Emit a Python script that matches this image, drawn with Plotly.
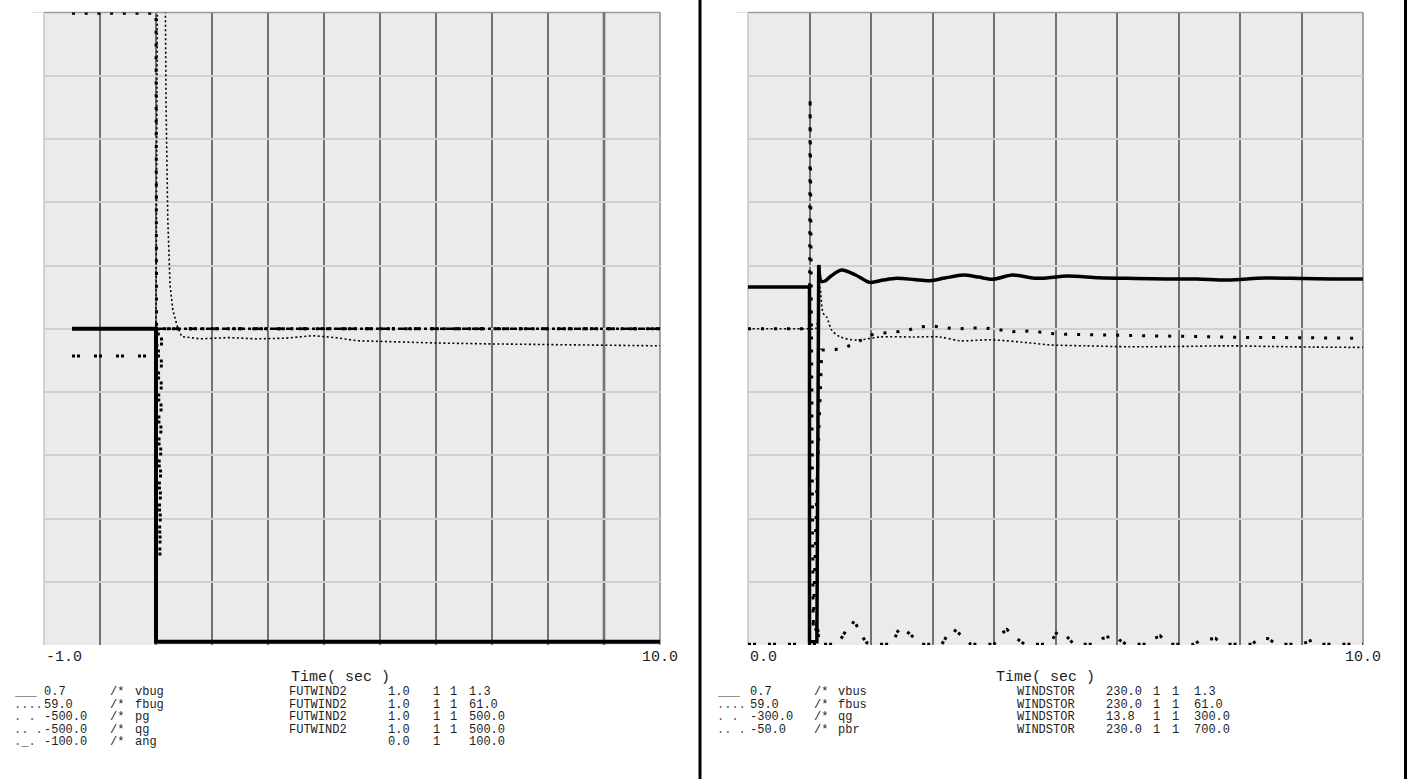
import plotly.graph_objects as go

W, H = 1408, 779

# ---------------- left panel data (FUTWIND2) ----------------
t_vbug = [-0.5, 1.0, 1.0, 10.0]
vbug = [1.0, 1.0, 0.703, 0.703]

t_fbug = [-0.5, 1.0, 1.03, 1.16, 1.18, 1.21, 1.25, 1.30, 1.375, 1.46, 1.8, 2.3, 2.8,
          3.3, 3.8, 4.2, 4.6, 5.2, 6.0, 7.0, 8.0, 9.0, 10.0]
fbug = [60.0, 60.0, 61.3, 61.2, 60.7, 60.35, 60.14, 60.06, 60.01, 59.975, 59.968, 59.972,
        59.968, 59.970, 59.978, 59.972, 59.962, 59.958, 59.955, 59.952, 59.950, 59.948, 59.946]

t_pg = [-0.5, 1.0, 1.01, 10.0]
pg = [499.0, 499.0, 0.0, 0.0]

t_qg = [-0.5, 1.0, 1.04, 1.07, 1.10, 10.0]
qg = [-43.0, -43.0, 0.0, -360.0, 0.0, 0.0]

t_ang = [-0.5, 10.0]
ang = [0.0, 0.0]

# ---------------- right panel data (WINDSTOR) ----------------
t_vbus = [0.0, 1.0, 1.0, 1.12, 1.15, 1.19, 1.25, 1.35, 1.52, 1.75, 1.98, 2.2, 2.42, 2.7,
          2.96, 3.2, 3.5, 3.75, 3.98, 4.3, 4.7, 5.2, 5.7, 6.3, 6.8, 7.3, 7.8, 8.4, 9.0, 9.5, 10.0]
vbus = [1.0396, 1.0396, 0.703, 0.703, 1.0605, 1.045, 1.0453, 1.050, 1.0557, 1.051, 1.044,
        1.0462, 1.0478, 1.0467, 1.0456, 1.0481, 1.051, 1.049, 1.0469, 1.051, 1.0478, 1.050,
        1.0484, 1.0477, 1.0472, 1.0472, 1.0462, 1.0481, 1.0477, 1.0472, 1.0472]

t_fbus = [0.0, 1.0, 1.1, 1.17, 1.22, 1.28, 1.36, 1.5, 1.77, 2.15, 2.69, 3.12, 3.45, 3.94,
          4.6, 4.9, 5.5, 6.2, 7.0, 7.8, 8.5, 9.2, 10.0]
fbus = [60.0, 60.0, 60.0, 60.13, 60.05, 60.037, 59.996, 59.974, 59.964, 59.974, 59.974,
        59.974, 59.962, 59.965, 59.955, 59.949, 59.946, 59.943, 59.944, 59.946, 59.944,
        59.942, 59.941]

t_qg2 = [0.0, 1.0, 1.01, 1.06, 1.12, 1.2, 1.4, 1.6, 1.78, 2.0, 2.2, 2.4, 2.6, 2.8, 3.0,
         3.2, 3.4, 3.65, 3.85, 4.05, 4.3, 4.6, 5.0, 5.7, 6.5, 7.3, 8.1, 9.0, 10.0]
qg2 = [0.0, 0.0, 220.0, -285.0, -150.0, -20.2, -20.0, -17.3, -12.6, -5.9, -4.0, -3.1,
       -1.2, 1.7, 2.6, 1.2, -0.3, 0.7, 0.7, -0.7, -2.8, -2.1, -5.0, -5.9, -6.9, -7.6,
       -8.2, -8.5, -9.1]

t_pbr = [0.0, 1.0, 1.08, 1.12, 1.16, 1.45, 1.5, 1.68, 1.75, 1.87, 1.93, 2.0, 2.35, 2.43,
         2.5, 2.71, 2.8, 3.15, 3.26, 3.33, 3.54, 3.62, 4.0, 4.13, 4.21, 4.4, 4.5, 4.9,
         5.03, 5.13, 5.3, 5.65, 5.77, 5.97, 6.04, 6.15, 6.5, 6.61, 6.7, 6.85, 7.25, 7.37,
         7.6, 7.67, 7.8, 8.2, 8.3, 8.45, 8.6, 9.0, 9.1, 9.17, 9.3, 10.0]
pbr = [-49.2, -49.2, -49.2, -20.4, -49.2, -49.2, -44.0, -22.7, -24.5, -41.3, -47.2,
       -49.2, -49.2, -34.2, -28.4, -42.2, -49.2, -49.2, -36.2, -31.0, -42.2, -49.2,
       -49.2, -36.2, -31.5, -44.0, -49.2, -49.2, -34.2, -35.4, -49.2, -49.2, -42.2,
       -38.1, -44.0, -49.2, -49.2, -42.2, -39.0, -49.2, -49.2, -44.0, -42.2, -46.0,
       -49.2, -49.2, -42.2, -42.2, -49.2, -49.2, -46.0, -44.0, -49.2, -49.2]

# ---------------- legend text ----------------
left_sym = ["___", "....", ". .", ".. .", "._."]
left_min = ["0.7", "59.0", "-500.0", "-500.0", "-100.0"]
left_chan = ["vbug", "fbug", "pg", "qg", "ang"]
left_bus = ["FUTWIND2", "FUTWIND2", "FUTWIND2", "FUTWIND2", ""]
left_kv = ["1.0", "1.0", "1.0", "1.0", "0.0"]
left_id1 = ["1", "1", "1", "1", "1"]
left_id2 = ["1", "1", "1", "1", ""]
left_max = ["1.3", "61.0", "500.0", "500.0", "100.0"]

right_sym = ["___", "....", ". .", ".. ."]
right_min = ["0.7", "59.0", "-300.0", "-50.0"]
right_chan = ["vbus", "fbus", "qg", "pbr"]
right_bus = ["WINDSTOR", "WINDSTOR", "WINDSTOR", "WINDSTOR"]
right_kv = ["230.0", "230.0", "13.8", "230.0"]
right_id1 = ["1", "1", "1", "1"]
right_id2 = ["1", "1", "1", "1"]
right_max = ["1.3", "61.0", "300.0", "700.0"]

# ---------------- figure ----------------
def px(x):
    return x / W

def py(y):
    return 1 - y / H

XL = [px(44), px(660)]
XR = [px(748), px(1363)]
YD = [py(645), py(12.5)]

FONT = "Liberation Mono, Courier New, monospace"
VGRID = "#727272"
HGRID = "#d0d0d0"

fig = go.Figure()

def add(t, v, yax, xax, dash, width, shape="linear"):
    fig.add_trace(go.Scatter(x=t, y=v, xaxis=xax, yaxis=yax, mode="lines",
                             line=dict(color="black", width=width, dash=dash, shape=shape,
                                       smoothing=0.8),
                             hoverinfo="skip", showlegend=False))

# left panel
add(t_ang, ang, "y5", "x", "3px,3px,7px,3px", 2.5)
add(t_qg, qg, "y4", "x", "3px,2px,3px,14px", 3)
add(t_pg, pg, "y3", "x", "3px,9.7px", 3)
add(t_fbug, fbug, "y2", "x", "2px,2.5px", 1.6)
add(t_vbug, vbug, "y", "x", "solid", 4)
# right panel
add(t_pbr, pbr, "y9", "x2", "3px,2px,3px,12px", 3)
add(t_qg2, qg2, "y8", "x2", "3px,10px", 3)
add(t_fbus, fbus, "y7", "x2", "2px,2.5px", 1.6, "spline")
k = 5  # step (fault) part drawn straight, recovery part smooth
add(t_vbus[:k], vbus[:k], "y6", "x2", "solid", 3.5)
add(t_vbus[k - 1:], vbus[k - 1:], "y6", "x2", "solid", 3.5, "spline")

ax_common = dict(showticklabels=False, ticks="", zeroline=False, fixedrange=True)

fig.update_layout(
    width=W, height=H, margin=dict(l=0, r=0, t=0, b=0),
    paper_bgcolor="white", plot_bgcolor="#ebebeb", showlegend=False,
    xaxis=dict(domain=XL, range=[-1, 10], anchor="y", showgrid=True, dtick=1, tick0=-1,
               gridcolor=VGRID, gridwidth=1.5, **ax_common),
    yaxis=dict(domain=YD, range=[0.7, 1.3], anchor="x", showgrid=True, dtick=0.06, tick0=0.7,
               gridcolor=HGRID, gridwidth=1.5, **ax_common),
    yaxis2=dict(overlaying="y", anchor="x", range=[59.0, 61.0], visible=False),
    yaxis3=dict(overlaying="y", anchor="x", range=[-500.0, 500.0], visible=False),
    yaxis4=dict(overlaying="y", anchor="x", range=[-500.0, 500.0], visible=False),
    yaxis5=dict(overlaying="y", anchor="x", range=[-100.0, 100.0], visible=False),
    xaxis2=dict(domain=XR, range=[0, 10], anchor="y6", showgrid=True, dtick=1, tick0=0,
                gridcolor=VGRID, gridwidth=1.5, **ax_common),
    yaxis6=dict(domain=YD, range=[0.7, 1.3], anchor="x2", showgrid=True, dtick=0.06, tick0=0.7,
                gridcolor=HGRID, gridwidth=1.5, **ax_common),
    yaxis7=dict(overlaying="y6", anchor="x2", range=[59.0, 61.0], visible=False),
    yaxis8=dict(overlaying="y6", anchor="x2", range=[-300.0, 300.0], visible=False),
    yaxis9=dict(overlaying="y6", anchor="x2", range=[-50.0, 700.0], visible=False),
)

shapes = []
# plot-area borders
for xr, yr in (("x", "y"), ("x2", "y6")):
    shapes.append(dict(type="line", xref=xr + " domain", yref=yr + " domain", x0=0, x1=1, y0=1, y1=1,
                       line=dict(color="#9a9a9a", width=1.5), layer="below"))
    shapes.append(dict(type="line", xref=xr + " domain", yref=yr + " domain", x0=1, x1=1, y0=0, y1=1,
                       line=dict(color="#8a8a8a", width=1.5), layer="below"))
    shapes.append(dict(type="line", xref=xr + " domain", yref=yr + " domain", x0=0, x1=0, y0=0, y1=1,
                       line=dict(color="#c6c6c6", width=1.5), layer="below"))
    # short light extension of the top edge to the left
    shapes.append(dict(type="line", xref=xr + " domain", yref=yr + " domain", x0=-0.018, x1=0, y0=1, y1=1,
                       line=dict(color="#dddddd", width=1)))
# darker grid line at t=9 in left panel
shapes.append(dict(type="line", xref="x", yref="y domain", x0=9, x1=9, y0=0, y1=1,
                   line=dict(color="#555555", width=2.5), layer="below"))
# frame lines
shapes.append(dict(type="line", xref="paper", yref="paper", x0=px(700), x1=px(700), y0=0, y1=1,
                   line=dict(color="black", width=3)))
shapes.append(dict(type="line", xref="paper", yref="paper", x0=px(1405.5), x1=px(1405.5), y0=0, y1=1,
                   line=dict(color="black", width=3)))
fig.update_layout(shapes=shapes)

ann = []
def text(x, y, s, xref="paper", xanchor="left", size=12, color="#1e1e1e"):
    ann.append(dict(x=x, y=y, xref=xref, yref="paper", text=s, showarrow=False,
                    xanchor=xanchor, yanchor="middle",
                    font=dict(family=FONT, size=size, color=color)))

# axis end labels
text(-1, py(657), "-1.0", xref="x", xanchor="left", size=15)
text(10, py(657), "10.0", xref="x", xanchor="center", size=15)
text(0, py(657), "0.0", xref="x2", xanchor="left", size=15)
text(10, py(657), "10.0", xref="x2", xanchor="center", size=15)
text(px(340), py(677), "Time( sec )", xanchor="center", size=15)
text(px(1045), py(677), "Time( sec )", xanchor="center", size=15)

row_y = [692, 704.5, 717, 729.5, 742]

def legend(x0, cols, syms):
    for i in range(len(syms)):
        y = py(row_y[i])
        text(px(x0[0]), y, syms[i], color="#555555")
        for xx, col in zip(x0[1:], cols):
            if col[i]:
                text(px(xx), y, col[i])

legend([12, 42, 108, 133, 287, 386, 431, 448, 467],
       [left_min, ["/*"] * 5, left_chan, left_bus, left_kv, left_id1, left_id2, left_max],
       left_sym)
legend([715, 748, 812, 836, 1015, 1104, 1151, 1170, 1192],
       [right_min, ["/*"] * 4, right_chan, right_bus, right_kv, right_id1, right_id2, right_max],
       right_sym)
fig.update_layout(annotations=ann)

fig.write_html("out.html", config={"displayModeBar": False},
               post_script="document.body.style.margin='0px';document.body.style.overflow='hidden';")
